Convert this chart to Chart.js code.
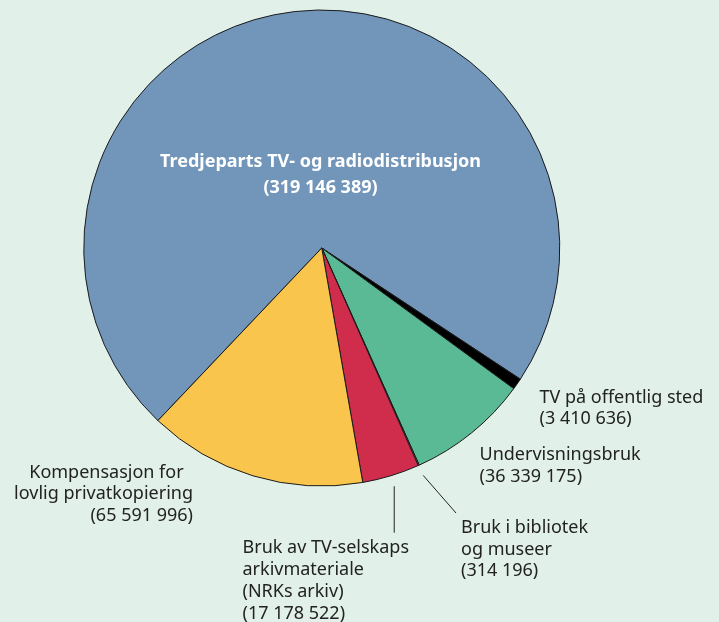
<!DOCTYPE html>
<html>
  <head>
    <title>Vederlag</title>
    <script src="https://cdn.jsdelivr.net/npm/chart.js@4.4.1/dist/chart.umd.min.js"></script>
    <style>
      html, body { margin: 0; padding: 0; background: #e1f0e9; }
      #wrap { width: 719px; height: 622px; position: relative; }
    </style>
  </head>
  <body>
    <div id="wrap"><canvas id="myChart"></canvas></div>
    <script>
      const categories = [
        ['Tredjeparts TV- og radiodistribusjon'],
        ['TV på offentlig sted'],
        ['Undervisningsbruk'],
        ['Bruk i bibliotek', 'og museer'],
        ['Bruk av TV-selskaps', 'arkivmateriale', '(NRKs arkiv)'],
        ['Kompensasjon for  ', 'lovlig privatkopiering']
      ];
      const amounts = [319146389, 3410636, 36339175, 314196, 17178522, 65591996];
      const colors = ['#7295ba', '#000000', '#5bba96', '#5bba96', '#d02c4b', '#f9c54c'];

      const fmt = n => '(' + String(n).replace(/\B(?=(\d{3})+(?!\d))/g, ' ') + ')';

      // where each label block sits: first baseline, alignment, optional leader line
      const labelSpots = [
        { x: 320.5, y: 166.7, align: 'center', color: '#ffffff', font: 'bold 18px "Noto Sans"', lh: 26 },
        { x: 539.5, y: 402.6, align: 'left', color: '#222', lh: 21.8 },
        { x: 479.5, y: 460.1, align: 'left', color: '#222', lh: 21.8 },
        { x: 461, y: 532.7, align: 'left', color: '#222', lh: 21.8, leader: { to: [456, 513] } },
        { x: 242.5, y: 553.4, align: 'left', color: '#222', lh: 21.8, leader: { down: 532.7 } },
        { x: 193, y: 477.5, align: 'right', color: '#222', lh: 21.5 }
      ];

      const labelPlugin = {
        id: 'sliceLabels',
        afterDraw(chart) {
          const ctx = chart.ctx;
          const arcs = chart.getDatasetMeta(0).data;
          ctx.save();
          labelSpots.forEach((s, i) => {
            const lines = categories[i].concat([fmt(amounts[i])]);
            ctx.font = s.font || '18px "Noto Sans"';
            ctx.fillStyle = s.color;
            ctx.textAlign = s.align;
            ctx.textBaseline = 'alphabetic';
            lines.forEach((t, k) => ctx.fillText(t, s.x, s.y + k * s.lh));
            if (s.leader) {
              const a = arcs[i].getProps(['x', 'y', 'startAngle', 'endAngle', 'outerRadius'], true);
              const mid = (a.startAngle + a.endAngle) / 2;
              const r = a.outerRadius + 11;
              const x0 = a.x + Math.cos(mid) * r;
              const y0 = a.y + Math.sin(mid) * r;
              ctx.beginPath();
              ctx.strokeStyle = '#222';
              ctx.lineWidth = 1;
              ctx.moveTo(x0, y0);
              if (s.leader.to) ctx.lineTo(s.leader.to[0], s.leader.to[1]);
              else ctx.lineTo(x0, s.leader.down);
              ctx.stroke();
            }
          });
          ctx.restore();
        }
      };

      const ctx = document.getElementById('myChart');
      new Chart(ctx, {
        type: 'pie',
        data: {
          labels: categories.map(c => c.join(' ').trim()),
          datasets: [{
            data: amounts,
            backgroundColor: colors,
            borderColor: '#1a1a1a',
            borderWidth: 1
          }]
        },
        options: {
          responsive: true,
          maintainAspectRatio: false,
          animation: false,
          rotation: 223.5,
          layout: { padding: { left: 82.5, right: 158, top: 9.5, bottom: 135.5 } },
          plugins: {
            legend: { display: false },
            tooltip: { enabled: false }
          }
        },
        plugins: [labelPlugin]
      });
    </script>
  </body>
</html>
